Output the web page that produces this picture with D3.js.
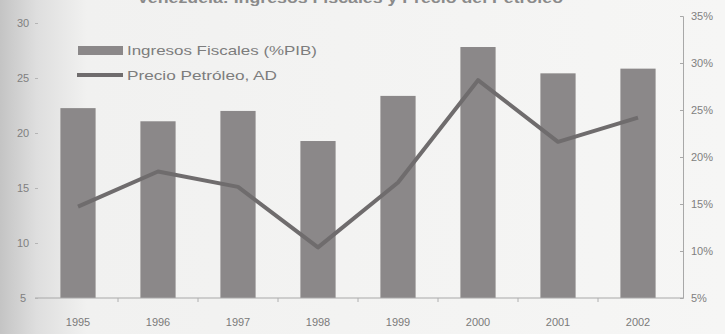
<!DOCTYPE html>
<html>
<head>
<meta charset="utf-8">
<title>Ingresos Fiscales y Precio del Petróleo</title>
<script src="https://d3js.org/d3.v7.min.js"></script>
<style>
  body { margin: 0; background: #f4f4f3; }
  text { font-family: "Liberation Sans", Arial, sans-serif; }
</style>
</head>
<body>
<div id="chart"></div>
<script>
// datos
var years = ["1995", "1996", "1997", "1998", "1999", "2000", "2001", "2002"];
var ingresos = [25.2, 23.8, 24.9, 21.7, 26.5, 31.7, 28.9, 29.4];   // % PIB, eje derecho
var petroleo = [13.3, 16.5, 15.1, 9.6, 15.5, 24.8, 19.2, 21.4];    // precio, eje izquierdo
var leftTicks = [5, 10, 15, 20, 25, 30];
var rightTicks = [5, 10, 15, 20, 25, 30, 35];

var W = 725, H = 334;
var svg = d3.select("#chart").append("svg")
    .attr("width", W).attr("height", H);

// fondo tipo foto: gris a la izquierda
var defs = svg.append("defs");
var grad = defs.append("linearGradient").attr("id", "bg").attr("x1", 0).attr("x2", 1).attr("y1", 0).attr("y2", 0);
grad.append("stop").attr("offset", "0%").attr("stop-color", "#c4c4c4");
grad.append("stop").attr("offset", "5%").attr("stop-color", "#dedede");
grad.append("stop").attr("offset", "12%").attr("stop-color", "#f1f1f0");
grad.append("stop").attr("offset", "100%").attr("stop-color", "#f6f6f5");
svg.append("rect").attr("width", W).attr("height", H).attr("fill", "url(#bg)");

var x = d3.scaleBand().domain(years).range([38, 678]).paddingInner(0.56).paddingOuter(0.28);
var yL = d3.scaleLinear().domain([5, 30]).range([298, 23]);
var yR = d3.scaleLinear().domain([5, 35]).range([298, 16]);

// título (cortado por el borde superior)
svg.append("text")
    .attr("x", 137).attr("y", 3)
    .attr("textLength", 426).attr("lengthAdjust", "spacingAndGlyphs")
    .attr("font-size", 14).attr("font-weight", "bold").attr("fill", "#8a8a8a")
    .text("Venezuela: Ingresos Fiscales y Precio del Petróleo");

// barras
svg.selectAll(".bar")
    .data(years)
    .enter().append("rect")
    .attr("class", "bar")
    .attr("x", function (d) { return x(d); })
    .attr("width", x.bandwidth())
    .attr("y", function (d, i) { return yR(ingresos[i]); })
    .attr("height", function (d, i) { return yR(5) - yR(ingresos[i]); })
    .attr("fill", "#8b8889");

// eje x
var axX = svg.append("g").attr("transform", "translate(0,298)")
    .call(d3.axisBottom(x).tickSize(0).tickPadding(20));
axX.select(".domain").attr("stroke", "#a8a8a8").attr("d", "M35,0H683");
axX.selectAll("text").attr("font-size", 11).attr("fill", "#7a7a7a");
axX.selectAll(".sep")
    .data(years.slice(1))
    .enter().append("line")
    .attr("class", "sep")
    .attr("x1", function (d) { return x(d) - x.step() * x.paddingInner() / 2; })
    .attr("x2", function (d) { return x(d) - x.step() * x.paddingInner() / 2; })
    .attr("y1", 0).attr("y2", 4)
    .attr("stroke", "#b0b0b0");

// eje izquierdo
var axL = svg.append("g").attr("transform", "translate(38,0)")
    .call(d3.axisLeft(yL).tickValues(leftTicks).tickSize(3).tickPadding(6));
axL.select(".domain").remove();
axL.selectAll("line").attr("stroke", "#b5b5b5");
axL.selectAll("text").attr("font-size", 11).attr("fill", "#808080")
    .attr("text-anchor", "middle").attr("x", -15);

// eje derecho
var axR = svg.append("g").attr("transform", "translate(683,0)")
    .call(d3.axisRight(yR).tickValues(rightTicks).tickSize(-3).tickPadding(8)
        .tickFormat(function (d) { return d + "%"; }));
axR.select(".domain").attr("stroke", "#a8a8a8");
axR.selectAll("line").attr("stroke", "#a8a8a8");
axR.selectAll("text").attr("font-size", 11).attr("fill", "#808080");

// línea del precio
var line = d3.line()
    .x(function (d, i) { return x(years[i]) + x.bandwidth() / 2; })
    .y(function (d) { return yL(d); });
svg.append("path")
    .datum(petroleo)
    .attr("d", line)
    .attr("fill", "none")
    .attr("stroke", "#6f6c6d")
    .attr("stroke-width", 4)
    .attr("stroke-linejoin", "round");

// leyenda
var leg = svg.append("g");
leg.append("rect").attr("x", 78).attr("y", 46).attr("width", 45).attr("height", 9).attr("fill", "#8b8889");
leg.append("text").attr("x", 127).attr("y", 55)
    .attr("font-size", 13).attr("fill", "#7d7d7d")
    .attr("textLength", 190).attr("lengthAdjust", "spacingAndGlyphs")
    .text("Ingresos Fiscales (%PIB)");
leg.append("line").attr("x1", 77).attr("x2", 123).attr("y1", 75).attr("y2", 75)
    .attr("stroke", "#6f6c6d").attr("stroke-width", 4);
leg.append("text").attr("x", 127).attr("y", 80)
    .attr("font-size", 13).attr("fill", "#7d7d7d")
    .attr("textLength", 150).attr("lengthAdjust", "spacingAndGlyphs")
    .text("Precio Petróleo, AD");
</script>
</body>
</html>
